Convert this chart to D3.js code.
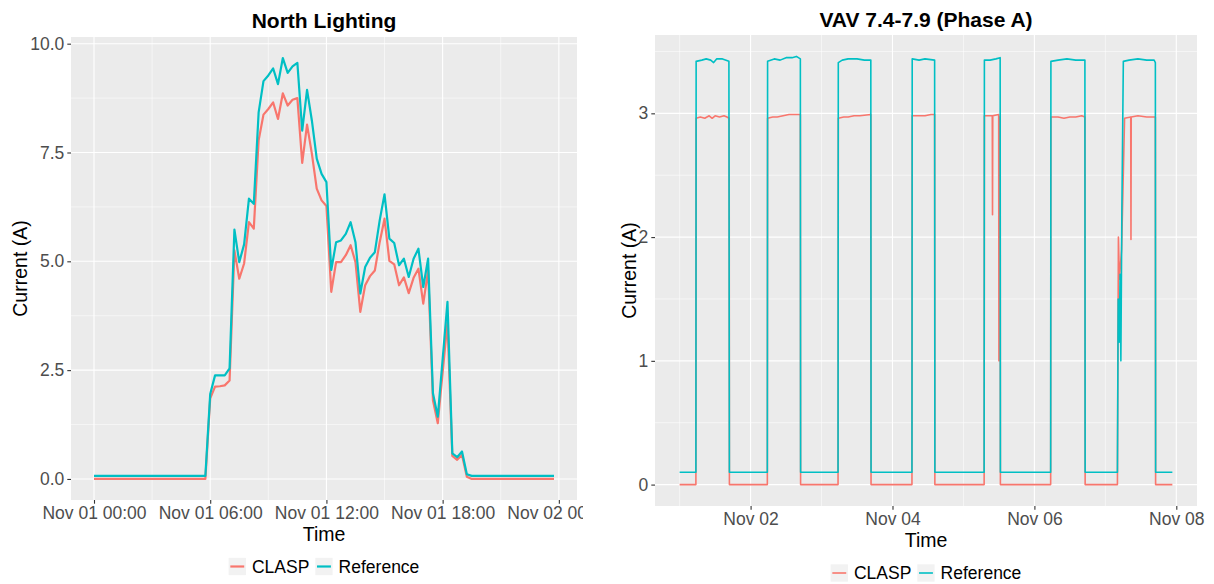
<!DOCTYPE html>
<html>
<head>
<meta charset="utf-8">
<script src="https://cdn.jsdelivr.net/npm/d3@7"></script>
<style>
body { margin: 0; background: #fff; }
text { font-family: "Liberation Sans", Arial, Helvetica, sans-serif; }
</style>
</head>
<body>
<svg id="chart" width="1214" height="584"></svg>
<script>
var parseT = d3.utcParse("%Y-%m-%d %H:%M");

// North Lighting: one reading every 15 minutes, Nov 01 00:00 .. 23:45
var lightStart = "2016-11-01 00:00";
var lightClasp = [
	0, 0, 0, 0, 0, 0, 0, 0, 0, 0, 0, 0,
	0, 0, 0, 0, 0, 0, 0, 0, 0, 0, 0, 0,
	1.85, 2.12, 2.13, 2.15, 2.26, 5.25, 4.60, 4.95, 5.90, 5.75, 7.78, 8.37,
	8.50, 8.65, 8.27, 8.86, 8.58, 8.71, 8.75, 7.26, 8.14, 7.47, 6.67, 6.40,
	6.27, 4.30, 4.98, 4.98, 5.14, 5.37, 4.98, 3.84, 4.45, 4.66, 4.79, 5.44,
	5.98, 5.01, 4.93, 4.45, 4.63, 4.27, 4.62, 4.83, 4.03, 4.79, 1.81, 1.28,
	2.45, 3.60, 0.53, 0.44, 0.55, 0.05, 0, 0, 0, 0, 0, 0,
	0, 0, 0, 0, 0, 0, 0, 0, 0, 0, 0, 0
];
var lightRef = [
	0.07, 0.07, 0.07, 0.07, 0.07, 0.07, 0.07, 0.07, 0.07, 0.07, 0.07, 0.07,
	0.07, 0.07, 0.07, 0.07, 0.07, 0.07, 0.07, 0.07, 0.07, 0.07, 0.07, 0.07,
	1.95, 2.38, 2.38, 2.38, 2.54, 5.73, 4.98, 5.39, 6.44, 6.32, 8.42, 9.14,
	9.27, 9.43, 9.07, 9.67, 9.33, 9.48, 9.56, 8.00, 8.94, 8.23, 7.36, 7.01,
	6.82, 4.80, 5.44, 5.48, 5.63, 5.90, 5.44, 4.26, 4.87, 5.08, 5.21, 5.94,
	6.54, 5.52, 5.42, 4.91, 5.06, 4.64, 5.06, 5.29, 4.41, 5.06, 1.97, 1.43,
	2.75, 4.07, 0.59, 0.50, 0.63, 0.11, 0.07, 0.07, 0.07, 0.07, 0.07, 0.07,
	0.07, 0.07, 0.07, 0.07, 0.07, 0.07, 0.07, 0.07, 0.07, 0.07, 0.07, 0.07
];
var lightXTicks = ["2016-11-01 00:00", "2016-11-01 06:00", "2016-11-01 12:00", "2016-11-01 18:00", "2016-11-02 00:00"];
var lightXMinor = ["2016-11-01 03:00", "2016-11-01 09:00", "2016-11-01 15:00", "2016-11-01 21:00"];
var lightYTicks = [0, 2.5, 5, 7.5, 10];
var lightYMinor = [1.25, 3.75, 6.25, 8.75];

// VAV 7.4-7.9 (Phase A): [time, current] at the level changes
var vavRef = [
	["11-01 00:00", 0.10], ["11-01 05:30", 0.10], ["11-01 05:35", 3.42], ["11-01 07:30", 3.43], ["11-01 09:00", 3.44],
	["11-01 10:30", 3.43], ["11-01 11:30", 3.41], ["11-01 12:30", 3.44], ["11-01 14:30", 3.44], ["11-01 16:40", 3.42], ["11-01 16:50", 0.10],
	["11-02 05:40", 0.10], ["11-02 05:45", 3.42], ["11-02 08:00", 3.44], ["11-02 10:00", 3.43], ["11-02 12:00", 3.45],
	["11-02 14:00", 3.45], ["11-02 15:30", 3.46], ["11-02 16:50", 3.44], ["11-02 16:55", 0.10],
	["11-03 05:35", 0.10], ["11-03 05:40", 3.41], ["11-03 07:00", 3.43], ["11-03 09:00", 3.44], ["11-03 12:00", 3.44],
	["11-03 14:30", 3.43], ["11-03 16:40", 3.43], ["11-03 16:45", 0.10],
	["11-04 06:35", 0.10], ["11-04 06:40", 3.44], ["11-04 09:00", 3.43], ["11-04 11:00", 3.44], ["11-04 14:15", 3.43], ["11-04 14:20", 0.10],
	["11-05 07:00", 0.10], ["11-05 07:05", 3.43], ["11-05 09:00", 3.43], ["11-05 11:00", 3.44], ["11-05 12:25", 3.45], ["11-05 12:30", 0.10],
	["11-06 05:30", 0.10], ["11-06 05:35", 3.42], ["11-06 08:00", 3.43], ["11-06 11:00", 3.44], ["11-06 14:00", 3.43],
	["11-06 17:05", 3.43], ["11-06 17:10", 0.10],
	["11-07 04:05", 0.10], ["11-07 04:20", 1.50], ["11-07 04:40", 1.15], ["11-07 05:00", 1.70], ["11-07 05:15", 1.00],
	["11-07 05:35", 2.20], ["11-07 06:05", 3.42], ["11-07 08:00", 3.43], ["11-07 11:00", 3.44], ["11-07 14:00", 3.43],
	["11-07 16:30", 3.43], ["11-07 16:55", 3.41], ["11-07 17:00", 0.10], ["11-07 22:40", 0.10]
];
var vavClasp = [
	["11-01 00:00", 0], ["11-01 05:30", 0], ["11-01 05:35", 2.96], ["11-01 07:00", 2.97], ["11-01 08:30", 2.96], ["11-01 10:00", 2.98],
	["11-01 11:00", 2.96], ["11-01 12:00", 2.98], ["11-01 13:30", 2.97], ["11-01 15:00", 2.98], ["11-01 16:00", 2.97],
	["11-01 16:45", 2.96], ["11-01 16:50", 0],
	["11-02 05:40", 0], ["11-02 05:45", 2.96], ["11-02 07:30", 2.97], ["11-02 09:00", 2.97], ["11-02 11:00", 2.98],
	["11-02 13:00", 2.99], ["11-02 15:00", 2.99], ["11-02 16:50", 2.99], ["11-02 16:55", 0],
	["11-03 05:35", 0], ["11-03 05:40", 2.96], ["11-03 07:30", 2.97], ["11-03 09:00", 2.97], ["11-03 11:00", 2.98],
	["11-03 13:00", 2.98], ["11-03 16:40", 2.99], ["11-03 16:45", 0],
	["11-04 06:35", 0], ["11-04 06:40", 2.98], ["11-04 09:00", 2.98], ["11-04 11:00", 2.98], ["11-04 13:00", 2.99],
	["11-04 14:15", 2.99], ["11-04 14:20", 0],
	["11-05 07:00", 0], ["11-05 07:05", 2.98], ["11-05 09:45", 2.98], ["11-05 09:50", 2.18], ["11-05 09:55", 2.98],
	["11-05 11:55", 2.99], ["11-05 12:00", 1.00], ["11-05 12:05", 2.97], ["11-05 12:25", 2.97], ["11-05 12:30", 0],
	["11-06 05:30", 0], ["11-06 05:35", 2.97], ["11-06 08:00", 2.97], ["11-06 10:00", 2.96], ["11-06 12:00", 2.97],
	["11-06 14:00", 2.97], ["11-06 16:00", 2.98], ["11-06 17:05", 2.97], ["11-06 17:10", 0],
	["11-07 04:05", 0], ["11-07 04:25", 2.00], ["11-07 04:45", 1.66], ["11-07 05:30", 1.90], ["11-07 06:30", 2.96],
	["11-07 08:35", 2.97], ["11-07 08:40", 1.98], ["11-07 08:45", 2.97], ["11-07 11:00", 2.98], ["11-07 14:00", 2.97],
	["11-07 16:55", 2.97], ["11-07 17:00", 0], ["11-07 22:40", 0]
];
var vavXTicks = ["2016-11-02 00:00", "2016-11-04 00:00", "2016-11-06 00:00", "2016-11-08 00:00"];
var vavXMinor = ["2016-11-01 00:00", "2016-11-03 00:00", "2016-11-05 00:00", "2016-11-07 00:00"];
var vavYTicks = [0, 1, 2, 3];
var vavYMinor = [0.5, 1.5, 2.5, 3.5];

var seriesNames = ["CLASP", "Reference"];
var seriesColors = ["#F8766D", "#00BFC4"];

var svg = d3.select("#chart");
svg.append("rect").attr("width", 1214).attr("height", 584).attr("fill", "#fff");

// the left picture is cut at its right border
svg.append("defs").append("clipPath").attr("id", "leftClip")
	.append("rect").attr("x", 0).attr("y", 0).attr("width", 583).attr("height", 584);

// ggplot style 5% padding around the data range
function expand(ext) {
	var a = +ext[0], b = +ext[1], pad = (b - a) * 0.05;
	return [a - pad, b + pad];
}

function drawPanel(cfg) {
	var g = svg.append("g");
	if (cfg.clip) g.attr("clip-path", "url(#" + cfg.clip + ")");

	var allPts = d3.merge(cfg.series.map(function(s) { return s.pts; }));
	var xd = expand(d3.extent(allPts, function(d) { return d.t; }));
	var x = d3.scaleUtc()
		.domain([new Date(xd[0]), new Date(xd[1])])
		.range([cfg.left, cfg.right]);
	var y = d3.scaleLinear()
		.domain(expand([0, d3.max(allPts, function(d) { return d.v; })]))
		.range([cfg.bottom, cfg.top]);

	// panel background
	g.append("rect")
		.attr("x", cfg.left).attr("y", cfg.top)
		.attr("width", cfg.right - cfg.left).attr("height", cfg.bottom - cfg.top)
		.attr("fill", "#EBEBEB");

	// minor then major grid
	var grid = g.append("g");
	grid.selectAll("line.xminor").data(cfg.xMinor).enter().append("line")
		.attr("x1", function(d) { return x(d); }).attr("x2", function(d) { return x(d); })
		.attr("y1", cfg.top).attr("y2", cfg.bottom)
		.attr("stroke", "#fff").attr("stroke-width", 0.55);
	grid.selectAll("line.yminor").data(cfg.yMinor).enter().append("line")
		.attr("y1", function(d) { return y(d); }).attr("y2", function(d) { return y(d); })
		.attr("x1", cfg.left).attr("x2", cfg.right)
		.attr("stroke", "#fff").attr("stroke-width", 0.55);
	grid.selectAll("line.xmajor").data(cfg.xTicks).enter().append("line")
		.attr("x1", function(d) { return x(d); }).attr("x2", function(d) { return x(d); })
		.attr("y1", cfg.top).attr("y2", cfg.bottom)
		.attr("stroke", "#fff").attr("stroke-width", 1.1);
	grid.selectAll("line.ymajor").data(cfg.yTicks).enter().append("line")
		.attr("y1", function(d) { return y(d); }).attr("y2", function(d) { return y(d); })
		.attr("x1", cfg.left).attr("x2", cfg.right)
		.attr("stroke", "#fff").attr("stroke-width", 1.1);

	// series lines, Reference drawn last
	var line = d3.line()
		.x(function(d) { return x(d.t); })
		.y(function(d) { return y(d.v); });
	g.selectAll("path.series").data(cfg.series).enter().append("path")
		.attr("class", "series")
		.attr("d", function(s) { return line(s.pts); })
		.attr("fill", "none")
		.attr("stroke", function(s) { return s.color; })
		.attr("stroke-width", cfg.lineWidth)
		.attr("stroke-linejoin", "round");

	// axes
	var xAxis = g.append("g")
		.attr("transform", "translate(0," + cfg.bottom + ")")
		.call(d3.axisBottom(x).tickValues(cfg.xTicks).tickFormat(cfg.xFormat)
			.tickSize(3.7).tickSizeOuter(0).tickPadding(3));
	var yAxis = g.append("g")
		.attr("transform", "translate(" + cfg.left + ",0)")
		.call(d3.axisLeft(y).tickValues(cfg.yTicks).tickFormat(cfg.yFormat)
			.tickSize(3.7).tickSizeOuter(0).tickPadding(3));
	[xAxis, yAxis].forEach(function(a) {
		a.select(".domain").remove();
		a.selectAll(".tick line").attr("stroke", "#333333").attr("stroke-width", 1.1);
		a.selectAll(".tick text")
			.attr("fill", "#4D4D4D")
			.style("font-size", "17.5px")
			.style("font-family", '"Liberation Sans", Arial, sans-serif');
	});

	var cx = (cfg.left + cfg.right) / 2;

	// title
	g.append("text")
		.attr("x", cx).attr("y", cfg.titleY)
		.attr("text-anchor", "middle")
		.style("font-size", "21px").style("font-weight", "bold")
		.text(cfg.title);

	// axis titles
	g.append("text")
		.attr("x", cx).attr("y", cfg.xTitleY)
		.attr("text-anchor", "middle")
		.style("font-size", "19.5px")
		.text("Time");
	g.append("text")
		.attr("transform", "translate(" + cfg.yTitleX + "," + ((cfg.top + cfg.bottom) / 2) + ") rotate(-90)")
		.attr("text-anchor", "middle")
		.style("font-size", "19.5px")
		.text("Current (A)");

	// legend, centred under the panel
	var leg = g.append("g");
	var key = 17.3, gap = 6, cursor = 0;
	cfg.series.forEach(function(s, i) {
		leg.append("rect")
			.attr("x", cursor).attr("y", cfg.legendY - 6 - key / 2)
			.attr("width", key).attr("height", key)
			.attr("fill", "#F2F2F2");
		leg.append("line")
			.attr("x1", cursor + 1.7).attr("x2", cursor + key - 1.7)
			.attr("y1", cfg.legendY - 6).attr("y2", cfg.legendY - 6)
			.attr("stroke", s.color).attr("stroke-width", cfg.lineWidth);
		cursor += key + gap;
		var t = leg.append("text")
			.attr("x", cursor).attr("y", cfg.legendY)
			.style("font-size", "17.5px")
			.text(s.name);
		cursor += t.node().getComputedTextLength() + gap;
	});
	leg.attr("transform", "translate(" + (cx - (cursor - gap) / 2) + ",0)");
}

var lightSeries = [lightClasp, lightRef].map(function(vals, k) {
	var t0 = parseT(lightStart);
	return {
		name: seriesNames[k],
		color: seriesColors[k],
		pts: vals.map(function(v, i) { return { t: d3.utcMinute.offset(t0, 15 * i), v: v }; })
	};
});

var vavSeries = [vavClasp, vavRef].map(function(rows, k) {
	return {
		name: seriesNames[k],
		color: seriesColors[k],
		pts: rows.map(function(d) { return { t: parseT("2016-" + d[0]), v: d[1] }; })
	};
});

drawPanel({
	series: lightSeries,
	clip: "leftClip",
	left: 71, right: 577, top: 37, bottom: 500,
	xTicks: lightXTicks.map(parseT), xMinor: lightXMinor.map(parseT),
	yTicks: lightYTicks, yMinor: lightYMinor,
	xFormat: d3.utcFormat("%b %d %H:%M"), yFormat: d3.format(".1f"),
	lineWidth: 2.2,
	title: "North Lighting", titleY: 28,
	xTitleY: 541, yTitleX: 27, legendY: 572.5
});

drawPanel({
	series: vavSeries,
	left: 655, right: 1197, top: 35, bottom: 506,
	xTicks: vavXTicks.map(parseT), xMinor: vavXMinor.map(parseT),
	yTicks: vavYTicks, yMinor: vavYMinor,
	xFormat: d3.utcFormat("%b %d"), yFormat: d3.format("d"),
	lineWidth: 1.6,
	title: "VAV 7.4-7.9 (Phase A)", titleY: 27,
	xTitleY: 547, yTitleX: 636, legendY: 579
});
</script>
</body>
</html>
